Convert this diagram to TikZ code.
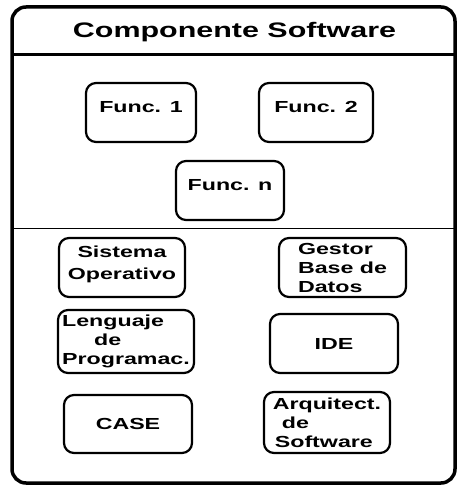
\documentclass[tikz,border=0pt]{standalone}
\usepackage{fontspec}
\setmainfont{Liberation Sans}[FakeStretch=1.45]
\begin{document}
\begin{tikzpicture}[x=1pt, y=-1pt, funcStyle/.style={rectangle, draw, rounded corners=10pt, line width=2.2pt, minimum width=110pt, minimum height=59pt, font=\bfseries\fontsize{16}{19}\selectfont, text depth=12pt}, toolStyle/.style={rectangle, draw, rounded corners=10pt, line width=2.2pt, minimum width=127pt, minimum height=59pt, inner sep=1pt, font=\bfseries\fontsize{16}{19}\selectfont}]
                    \useasboundingbox (0,0) rectangle (457,487);
                    \draw[line width=3.5pt, rounded corners=14pt] (12,7) rectangle (455,483);
                    \draw[line width=3pt] (12,55) -- (455,55);
                    \draw[line width=1pt] (12,228) -- (455,228);
                    \node[font=\bfseries\fontsize{21}{24}\selectfont] (title) at (234.5,32.5) {Componente Software};
                    % funciones
                    \node[funcStyle] (func_1) at (141,112.5) {Func. 1};
                    \node[funcStyle, minimum width=114pt] (func_2) at (316,112.5) {Func. 2};
                    \node[funcStyle, minimum width=108pt] (func_n) at (230,190.5) {Func. n};
                    % entorno
                    \node[toolStyle, minimum width=126pt, align=center, font=\bfseries\fontsize{16}{21.5}\selectfont, text depth=10pt] (sis_op) at (122,267.5) {Sistema\\Operativo};
                    \node[toolStyle, align=left] (gestor_bd) at (342.5,267.5) {Gestor\\Base de\\Datos};
                    \node[toolStyle, minimum width=136pt, minimum height=63pt, align=left] (lenguaje) at (126,341.5) {Lenguaje\\\hspace*{32pt}de\\Programac.};
                    \node[toolStyle, minimum width=128pt] (ide) at (334,343.5) {IDE};
                    \node[toolStyle, minimum width=128pt, minimum height=58pt] (case) at (128,424) {CASE};
                    \node[toolStyle, minimum width=126pt, minimum height=61pt, align=left] (arq_sw) at (327,422.5) {Arquitect.\\\hspace*{9pt}de\\\hspace*{2pt}Software};
                \end{tikzpicture}
\end{document}
